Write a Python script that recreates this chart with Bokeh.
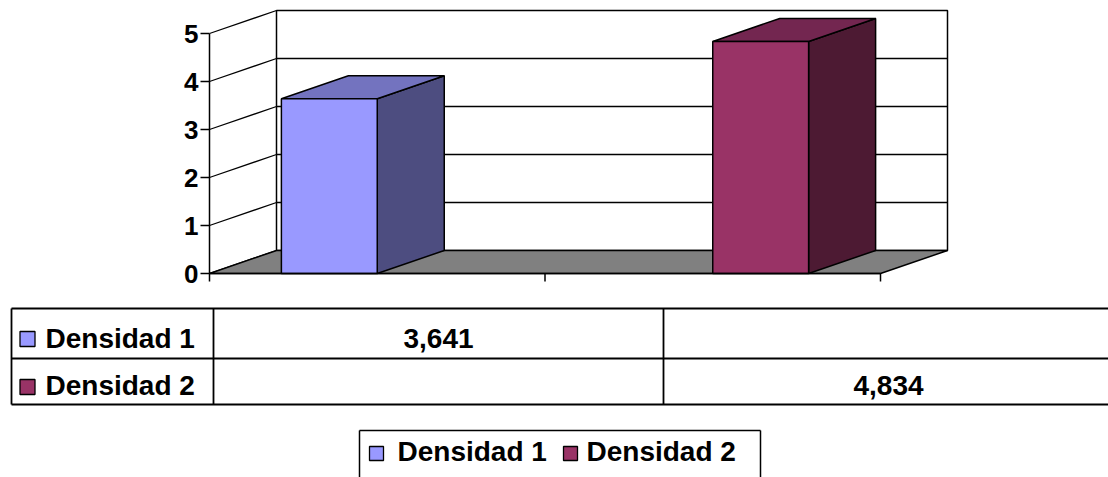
import math
from bokeh.plotting import figure
from bokeh.models import Range1d
from bokeh.layouts import column
from bokeh.embed import file_html
from bokeh.resources import INLINE
from bokeh.core.properties import value

# ---------------- data ----------------
series_names = ["Densidad 1", "Densidad 2"]
categories = ["", ""]
densidad_1 = [3.641, float("nan")]
densidad_2 = [float("nan"), 4.834]
y_ticks = [0, 1, 2, 3, 4, 5]

front_colors = ["#9999FF", "#993366"]
top_colors = ["#7373BF", "#732650"]
side_colors = ["#4D4D80", "#4D1A33"]
floor_color = "#808080"

FONT = "Liberation Sans"

# ---------------- geometry (pixels) ----------------
W = 1108
CHART_H = 290
TABLE_H = 477 - CHART_H
AXIS_X = 209            # pixel of category 0 / value axis
ZERO_Y = 273            # pixel of value 0
PX_CAT = 335.5          # pixels per category
PX_VAL = 48.0           # pixels per value unit
n_cat = len(categories)
x_start = -AXIS_X / PX_CAT
x_end = (W - AXIS_X) / PX_CAT
y_start = -(CHART_H - ZERO_Y) / PX_VAL
y_end = ZERO_Y / PX_VAL
DX = 67 / PX_CAT        # depth offset (category units)
DY = 23 / PX_VAL        # depth offset (value units)
y_max = max(y_ticks)
gap = 1.5
bar_w = 1.0 / (len(series_names) + gap)

p = figure(width=W, height=CHART_H, x_range=Range1d(x_start, x_end), y_range=Range1d(y_start, y_end),
           x_axis_type=None, y_axis_type=None,
           output_backend="svg", toolbar_location=None, min_border=0,
           outline_line_color=None, background_fill_color="white", border_fill_color="white")
p.xgrid.visible = False
p.ygrid.visible = False

# back wall
p.quad(left=[DX], right=[n_cat + DX], bottom=[DY], top=[y_max + DY],
       fill_color="white", line_color="black", line_width=1.5)
inner = [t for t in y_ticks if 0 < t < y_max]
p.segment(x0=[DX] * len(inner), y0=[t + DY for t in inner],
          x1=[n_cat + DX] * len(inner), y1=[t + DY for t in inner],
          line_color="black", line_width=1.3)
# side wall gridlines
p.segment(x0=[0] * len(y_ticks), y0=list(y_ticks),
          x1=[DX] * len(y_ticks), y1=[t + DY for t in y_ticks],
          line_color="black", line_width=1.3)
# floor
p.patch(x=[0, n_cat, n_cat + DX, DX], y=[0, 0, DY, DY],
        fill_color=floor_color, line_color="black", line_width=1.5)

# bars
for s, vals in enumerate([densidad_1, densidad_2]):
    for i, v in enumerate(vals):
        if isinstance(v, float) and math.isnan(v):
            continue
        x0 = i + gap / 2 * bar_w + s * bar_w
        x1 = x0 + bar_w
        p.patch(x=[x1, x1 + DX, x1 + DX, x1], y=[0, DY, v + DY, v],
                fill_color=side_colors[s], line_color="black", line_width=1.5)
        p.patch(x=[x0, x1, x1 + DX, x0 + DX], y=[v, v, v + DY, v + DY],
                fill_color=top_colors[s], line_color="black", line_width=1.5)
        p.quad(left=[x0], right=[x1], bottom=[0], top=[v],
               fill_color=front_colors[s], line_color="black", line_width=1.5)

# value axis (line, ticks, labels)
tick_len_x = 9 / PX_CAT
p.segment(x0=[0], y0=[0], x1=[0], y1=[y_max], line_color="black", line_width=1.5)
p.segment(x0=[-tick_len_x] * len(y_ticks), y0=list(y_ticks), x1=[0] * len(y_ticks), y1=list(y_ticks),
          line_color="black", line_width=1.5)
p.text(x=[-(tick_len_x + 2 / PX_CAT)] * len(y_ticks), y=list(y_ticks), text=[str(t) for t in y_ticks],
       text_font=value(FONT), text_font_style="bold", text_font_size="26px", text_color="black",
       text_align="right", text_baseline="middle")
# category axis (front floor edge + ticks)
tick_len_y = 8 / PX_VAL
p.segment(x0=[0], y0=[0], x1=[n_cat], y1=[0], line_color="black", line_width=1.5)
cat_ticks = list(range(n_cat + 1))
p.segment(x0=cat_ticks, y0=[0] * len(cat_ticks), x1=cat_ticks, y1=[-tick_len_y] * len(cat_ticks),
          line_color="black", line_width=1.5)

# ---------------- data table + legend (pixel coordinates) ----------------
t = figure(width=W, height=TABLE_H, x_range=Range1d(0, W), y_range=Range1d(477, CHART_H),
           x_axis_type=None, y_axis_type=None, output_backend="svg", toolbar_location=None,
           min_border=0, outline_line_color=None, background_fill_color="white",
           border_fill_color="white")
t.xgrid.visible = False
t.ygrid.visible = False

col_x = [11, 213, 663, 1113]
row_y = [308, 358, 404]
t.segment(x0=[col_x[0]] * 3, y0=row_y, x1=[col_x[-1]] * 3, y1=row_y,
          line_color="black", line_width=1.8)
t.segment(x0=col_x, y0=[row_y[0]] * 4, x1=col_x, y1=[row_y[-1]] * 4,
          line_color="black", line_width=1.8)

name_base = [338, 385]
marker_cy = [338.5, 386.5]
t.rect(x=[27, 27], y=marker_cy, width=15, height=15, fill_color=front_colors,
       line_color="black", line_width=1.3)
t.text(x=[45, 45], y=name_base, text=series_names, text_font=value(FONT),
       text_font_style="bold", text_font_size="28px", text_color="black",
       text_align="left", text_baseline="alphabetic")

def fmt(v):
    return f"{v:.3f}".replace(".", ",")

cell_txt, cell_x, cell_y = [], [], []
for s, vals in enumerate([densidad_1, densidad_2]):
    for i, v in enumerate(vals):
        if isinstance(v, float) and math.isnan(v):
            continue
        cell_txt.append(fmt(v))
        cell_x.append((col_x[i + 1] + col_x[i + 2]) / 2)
        cell_y.append(name_base[s])
t.text(x=cell_x, y=cell_y, text=cell_txt, text_font=value(FONT),
       text_font_style="bold", text_font_size="28px", text_color="black",
       text_align="center", text_baseline="alphabetic")

# legend box
t.segment(x0=[359, 359, 760], y0=[430, 430, 430], x1=[760, 359, 760], y1=[430, 480, 480],
          line_color="black", line_width=1.5)
t.rect(x=[376, 570], y=[453, 453], width=14, height=14, fill_color=front_colors,
       line_color="black", line_width=1.3)
t.text(x=[397, 586], y=[451, 451], text=series_names, text_font=value(FONT),
       text_font_style="bold", text_font_size="28px", text_color="black",
       text_align="left", text_baseline="alphabetic")

layout = column(p, t, spacing=0)
open("out.html", "w").write(file_html(layout, INLINE))
